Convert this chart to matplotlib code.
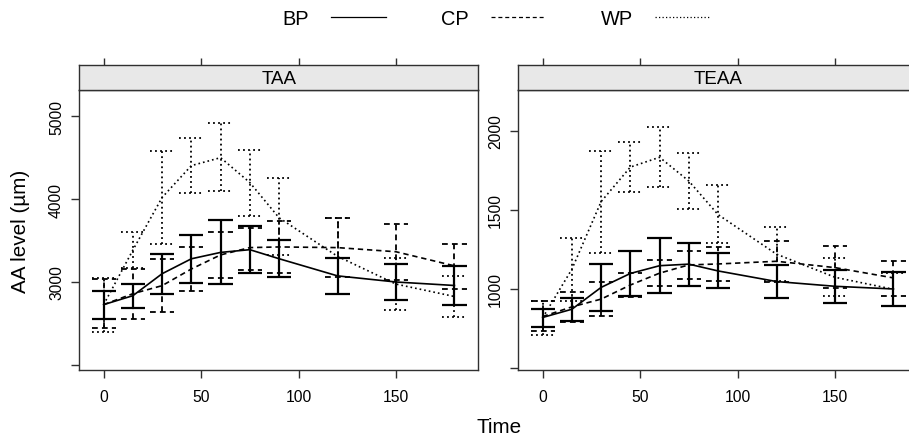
import matplotlib
matplotlib.use("Agg")
import matplotlib.pyplot as plt
from matplotlib.lines import Line2D
from matplotlib import font_manager

# ---------------- data ----------------
time = [0, 15, 30, 45, 60, 75, 90, 120, 150, 180]
groups = ["BP", "CP", "WP"]
panels = ["TAA", "TEAA"]

# TAA
taa_bp_mean = [2727, 2835, 3100, 3280, 3357, 3390, 3281, 3074, 3000, 2958]
taa_bp_hi = [2895, 2970, 3341, 3570, 3742, 3676, 3506, 3289, 3220, 3197]
taa_bp_lo = [2550, 2687, 2859, 2988, 2970, 3110, 3056, 2859, 2783, 2718]

taa_cp_mean = [2727, 2859, 2956, 3157, 3327, 3415, 3423, 3415, 3365, 3195]
taa_cp_hi = [3040, 3160, 3273, 3422, 3602, 3650, 3735, 3771, 3702, 3461]
taa_cp_lo = [2446, 2558, 2639, 2892, 3052, 3150, 3112, 3055, 3028, 2919]

taa_wp_mean = [2727, 3385, 4020, 4404, 4500, 4200, 3775, 3310, 2975, 2825]
taa_wp_hi = [3048, 3602, 4586, 4735, 4916, 4594, 4250, 3771, 3285, 3076]
taa_wp_lo = [2398, 3165, 3453, 4072, 4092, 3800, 3320, 2859, 2666, 2574]

# TEAA
teaa_bp_mean = [820, 872, 1010, 1098, 1147, 1157, 1114, 1047, 1017, 1000]
teaa_bp_hi = [876, 940, 1158, 1238, 1322, 1291, 1227, 1152, 1122, 1110]
teaa_bp_lo = [762, 800, 863, 954, 973, 1021, 1004, 941, 912, 891]

teaa_cp_mean = [826, 887, 936, 1025, 1100, 1152, 1158, 1175, 1135, 1070]
teaa_cp_hi = [926, 984, 1042, 1100, 1185, 1238, 1263, 1305, 1270, 1179]
teaa_cp_lo = [737, 790, 828, 951, 1017, 1063, 1053, 1045, 1006, 958]

teaa_wp_mean = [818, 1125, 1552, 1770, 1832, 1682, 1470, 1220, 1074, 998]
teaa_wp_hi = [926, 1325, 1874, 1930, 2021, 1857, 1657, 1390, 1194, 1101]
teaa_wp_lo = [711, 925, 1225, 1611, 1642, 1505, 1291, 1049, 954, 895]

x_ticks = [0, 50, 100, 150]
taa_yticks = [2000, 3000, 4000, 5000]
taa_yticklabels = ["", "3000", "4000", "5000"]
teaa_yticks = [500, 1000, 1500, 2000]
teaa_yticklabels = ["", "1000", "1500", "2000"]

# ---------------- style ----------------
names = {f.name for f in font_manager.fontManager.ttflist}
if "Liberation Sans Narrow" in names:
    FONT = ["Liberation Sans Narrow", "DejaVu Sans"]
    fs = 1.0
else:
    FONT = ["Liberation Sans", "DejaVu Sans"]
    fs = 0.9
plt.rcParams["font.family"] = FONT

styles = {
    "BP": dict(ls="-", lw_line=1.2, lw_bar=1.6),
    "CP": dict(ls=(0, (3.2, 2.3)), lw_line=1.2, lw_bar=1.3),
    "WP": dict(ls=(0, (1.0, 1.8)), lw_line=1.2, lw_bar=1.3),
}
EDGE = "#303030"

W, H = 909, 439
fig = plt.figure(figsize=(W / 100, H / 100), dpi=100)


def px_axes(x0, y0, x1, y1):
    return fig.add_axes([x0 / W, 1 - y1 / H, (x1 - x0) / W, (y1 - y0) / H])


XLIM = (-12.5, 192.1)
CAP = 6.2  # half width of caps in time units

panel_data = {
    "TAA": {
        "BP": (taa_bp_mean, taa_bp_lo, taa_bp_hi),
        "CP": (taa_cp_mean, taa_cp_lo, taa_cp_hi),
        "WP": (taa_wp_mean, taa_wp_lo, taa_wp_hi),
        "ylim": (1942, 5320),
        "yticks": taa_yticks,
        "ylabels": taa_yticklabels,
        "x0": 79.3,
    },
    "TEAA": {
        "BP": (teaa_bp_mean, teaa_bp_lo, teaa_bp_hi),
        "CP": (teaa_cp_mean, teaa_cp_lo, teaa_cp_hi),
        "WP": (teaa_wp_mean, teaa_wp_lo, teaa_wp_hi),
        "ylim": (490, 2259),
        "yticks": teaa_yticks,
        "ylabels": teaa_yticklabels,
        "x0": 518.3,
    },
}

PW = 398.7
for name in panels:
    d = panel_data[name]
    x0 = d["x0"]
    ax = px_axes(x0, 90.7, x0 + PW, 370.7)
    st = px_axes(x0, 66.0, x0 + PW, 90.7)

    for g in groups:
        mean, lo, hi = d[g]
        s = styles[g]
        ax.plot(time, mean, color="black", ls=s["ls"], lw=s["lw_line"])
        ax.vlines(time, lo, hi, colors="black", linestyles=[s["ls"]], lw=s["lw_bar"])
        left = [t - CAP for t in time]
        right = [t + CAP for t in time]
        ax.hlines(hi, left, right, colors="black", linestyles=[s["ls"]], lw=s["lw_bar"])
        ax.hlines(lo, left, right, colors="black", linestyles=[s["ls"]], lw=s["lw_bar"])

    ax.set_xlim(*XLIM)
    ax.set_ylim(*d["ylim"])
    ax.set_xticks(x_ticks)
    ax.set_xticklabels([str(t) for t in x_ticks])
    ax.set_yticks(d["yticks"])
    ax.set_yticklabels(d["ylabels"], rotation=90, va="center")
    ax.tick_params(axis="x", direction="out", length=6, width=1.0, color=EDGE,
                   pad=8, labelsize=12.5 * fs, top=False, bottom=True)
    ax.tick_params(axis="y", direction="out", length=6, width=1.0, color=EDGE,
                   pad=5, labelsize=12.5 * fs, left=True, right=False)
    for sp in ax.spines.values():
        sp.set_color(EDGE)
        sp.set_linewidth(1.0)

    # strip
    st.set_facecolor("#e8e8e8")
    st.set_xlim(*XLIM)
    st.set_ylim(0, 1)
    st.set_yticks([])
    st.set_xticks(x_ticks)
    st.tick_params(axis="x", direction="out", length=5, width=1.0, color=EDGE,
                   top=True, bottom=False, labeltop=False, labelbottom=False)
    for sp in st.spines.values():
        sp.set_color(EDGE)
        sp.set_linewidth(1.0)
    st.text(0.5, 0.45, name, transform=st.transAxes, ha="center", va="center",
            fontsize=15 * fs)

# axis titles
fig.text(21 / W, 1 - 231 / H, "AA level (µm)", rotation=90, ha="center",
         va="center", fontsize=16.5 * fs)
fig.text(499 / W, 1 - 428 / H, "Time", ha="center", va="center",
         fontsize=16.5 * fs)

# legend (key above the panels)
leg_fs = 16 * fs
em_px = leg_fs * 100 / 72
handles = [Line2D([], [], color="black", ls=styles[g]["ls"], lw=0.9) for g in groups]
fig.legend(handles, groups, loc="center", bbox_to_anchor=(496 / W, 1 - 19.5 / H),
           ncol=3, frameon=False, markerfirst=False, fontsize=leg_fs,
           handlelength=55 / em_px, handletextpad=22 / em_px,
           columnspacing=55 / em_px, borderpad=0)

fig.savefig("out.png", dpi=100)
